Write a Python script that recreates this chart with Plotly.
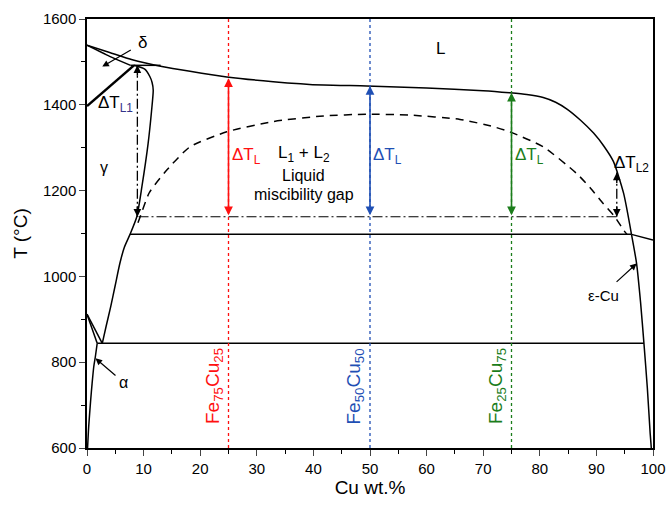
import plotly.graph_objects as go

# ---- data (Cu wt.% , T in °C) ----
liq_x = [0, 4, 8, 13, 18.2, 24.7, 32.9, 41.8, 49.4, 60, 70, 74.7, 77.7, 80.6, 82.8, 84.8, 87.2, 89.5, 91.3, 93, 94.8, 96.2]
liq_T = [1539, 1522, 1505, 1490, 1478, 1465, 1454, 1446, 1444, 1439, 1433, 1428, 1424, 1417, 1406, 1390, 1364, 1334, 1304, 1268, 1194, 1098]

delta_x = [0, 4, 7.7]
delta_T = [1539, 1513, 1492]

gd_x = [0, 8.3]
gd_T = [1397, 1492]

perit_x = [7.7, 13]
perit_T = [1492, 1492]

gam_x = [2.7, 3.4, 4.2, 5.0, 5.8, 6.6, 7.6, 8.8, 9.7, 10.8, 11.4, 11.7, 11.5, 11.1, 10.2, 8.3]
gam_T = [844, 885, 930, 980, 1030, 1068, 1098, 1139, 1209, 1310, 1385, 1434, 1452, 1466, 1483, 1492]

alpha_up_x = [0, 2.7]
alpha_up_T = [912, 844]
alpha_lo_x = [0, 1.8]
alpha_lo_T = [912, 844]
alpha_solv_x = [1.8, 1.5, 1.2, 0.9, 0.65, 0.3, 0.1]
alpha_solv_T = [844, 815, 790, 750, 712, 650, 600]

eutectoid_x = [1.8, 98.4]
eutectoid_T = [844, 844]

monotectic_x = [7.6, 96.2]
monotectic_T = [1098, 1098]

cu_liq_x = [96.2, 100]
cu_liq_T = [1098, 1085]

eps_x = [96.2, 97.1, 97.8, 98.4, 99.0, 99.5, 99.7]
eps_T = [1098, 1030, 940, 844, 740, 634, 600]

gap_x = [9.0, 9.4, 11, 14.1, 18.2, 24.7, 32.9, 41.8, 49.4, 57, 65.9, 71.8, 74.7, 80.6, 86.5, 89, 91.2, 93.2, 94.8, 95.4]
gap_T = [1125, 1139, 1195, 1248, 1302, 1337, 1361, 1374, 1378, 1376, 1366, 1349, 1337, 1302, 1240, 1205, 1170, 1140, 1108, 1098]

undercool_x = [9.1, 93.6]
undercool_T = [1139, 1139]

alloy_x = [25, 50, 75]
alloy_liq_T = [1462, 1444, 1428]
alloy_names = ["Fe<sub>75</sub>Cu<sub>25</sub>", "Fe<sub>50</sub>Cu<sub>50</sub>", "Fe<sub>25</sub>Cu<sub>75</sub>"]
alloy_colors = ["#ff1010", "#1f4fb4", "#1b7d1b"]

dTL1_x, dTL1_top, dTL1_bot = 8.9, 1492, 1139
dTL2_x, dTL2_top, dTL2_bot = 93.6, 1242, 1139

x_ticks = list(range(0, 101, 10))
y_ticks = list(range(600, 1601, 200))

FONT = "Liberation Sans, Arial, sans-serif"
DASHDOT = "10px,3px,2px,3px"

fig = go.Figure()

def line(x, y, width=1.5, dash="solid", color="black", smooth=False):
    ln = dict(color=color, width=width, dash=dash)
    if smooth:
        ln.update(shape="spline", smoothing=0.6)
    fig.add_trace(go.Scatter(x=x, y=y, mode="lines", line=ln,
                             hoverinfo="skip", showlegend=False, cliponaxis=False))

line(liq_x, liq_T, smooth=True)
line(delta_x, delta_T, smooth=True)
line(gd_x, gd_T, width=2.5)
line(perit_x, perit_T)
line(gam_x, gam_T, smooth=True)
line(alpha_up_x, alpha_up_T)
line(alpha_lo_x, alpha_lo_T)
line(alpha_solv_x, alpha_solv_T, smooth=True)
line(eutectoid_x, eutectoid_T)
line(monotectic_x, monotectic_T)
line(cu_liq_x, cu_liq_T)
line(eps_x, eps_T, smooth=True)
line(gap_x, gap_T, dash="8px,6px", smooth=True)
line(undercool_x, undercool_T, width=1.2, dash=DASHDOT)

# alloy verticals
for xv, c in zip(alloy_x, alloy_colors):
    line([xv, xv], [600, 1600], width=1.3, dash="dot", color=c)

# dash-dot ΔT_L1 / ΔT_L2 lines
line([dTL1_x, dTL1_x], [dTL1_bot, dTL1_top], width=1.3, dash=DASHDOT)
line([dTL2_x, dTL2_x], [dTL2_bot, dTL2_top], width=1.3, dash=DASHDOT)

ann = []
# colored double arrows
for xv, top, c in zip(alloy_x, alloy_liq_T, alloy_colors):
    ann.append(dict(x=xv, y=top, ax=xv, ay=undercool_T[0], xref="x", yref="y", axref="x", ayref="y",
                    text="", showarrow=True, arrowhead=2, startarrowhead=2, arrowside="end+start",
                    arrowsize=1.1, arrowwidth=1.6, arrowcolor=c, standoff=0, startstandoff=0))

# small black arrowheads on dash-dot lines
for xv, top, bot in [(dTL1_x, dTL1_top, dTL1_bot), (dTL2_x, dTL2_top, dTL2_bot)]:
    ann.append(dict(x=xv, y=top, ax=0, ay=12, xref="x", yref="y", text="", showarrow=True,
                    arrowhead=2, arrowsize=1.1, arrowwidth=1.4, arrowcolor="black", standoff=0))
    ann.append(dict(x=xv, y=bot, ax=0, ay=-12, xref="x", yref="y", text="", showarrow=True,
                    arrowhead=2, arrowsize=1.1, arrowwidth=1.4, arrowcolor="black", standoff=0))

# pointer arrows (δ, α, ε-Cu)
for tip, tail in [((2.7, 1489), (8.0, 1530)), ((1.5, 809), (5.3, 766)), ((97.1, 1030), (93.3, 984))]:
    ann.append(dict(x=tip[0], y=tip[1], ax=tail[0], ay=tail[1], xref="x", yref="y", axref="x", ayref="y",
                    text="", showarrow=True, arrowhead=2, arrowsize=1.1, arrowwidth=1.2,
                    arrowcolor="black", standoff=0))

def txt(x, y, s, size=17, color="black", angle=0):
    ann.append(dict(x=x, y=y, xref="x", yref="y", text=s, showarrow=False, textangle=angle,
                    font=dict(family=FONT, size=size, color=color)))

txt(62.4, 1532, "L")
txt(9.8, 1546, "δ")
txt(5.0, 1402, "ΔT<sub><span style='color:#33338a'>L1</span></sub>")
txt(3.0, 1255, "γ", size=16)
txt(6.4, 752, "α", size=16)
txt(91.3, 955, "ε-Cu", size=15)
txt(96.2, 1262, "ΔT<sub>L2</sub>")
txt(38.3, 1285, "L<sub>1</sub> + L<sub>2</sub>")
txt(38.3, 1236, "Liquid", size=16)
txt(38.3, 1190, "miscibility gap", size=16)
for xv, c in zip([28.1, 53.1, 78.1], alloy_colors):
    txt(xv, 1281, "ΔT<sub>L</sub>", color=c)
for xv, c, name in zip([22.4, 47.4, 72.4], alloy_colors, alloy_names):
    txt(xv, 744, name, color=c, angle=-90, size=19)

fig.update_layout(
    width=667, height=508,
    margin=dict(l=87, r=14, t=19, b=60, autoexpand=False),
    paper_bgcolor="white", plot_bgcolor="white",
    annotations=ann,
    font=dict(family=FONT, size=15, color="black"),
    xaxis=dict(range=[0, 100], tickvals=x_ticks, ticks="outside", ticklen=6, tickwidth=1.2,
               showline=True, linecolor="black", linewidth=1.5, mirror=True, showgrid=False,
               zeroline=False, tickfont=dict(size=15), automargin=False,
               minor=dict(dtick=5, ticks="outside", ticklen=4, tickcolor="black", showgrid=False),
               title=dict(text="Cu wt.%", font=dict(size=19), standoff=5)),
    yaxis=dict(range=[600, 1600], tickvals=y_ticks, ticks="outside", ticklen=6, tickwidth=1.2,
               showline=True, linecolor="black", linewidth=1.5, mirror=True, showgrid=False,
               zeroline=False, tickfont=dict(size=15), automargin=False,
               minor=dict(dtick=100, ticks="outside", ticklen=4, tickcolor="black", showgrid=False),
               title=dict(text="T (°C)", font=dict(size=19), standoff=10)),
)

fig.write_html("out.html")
